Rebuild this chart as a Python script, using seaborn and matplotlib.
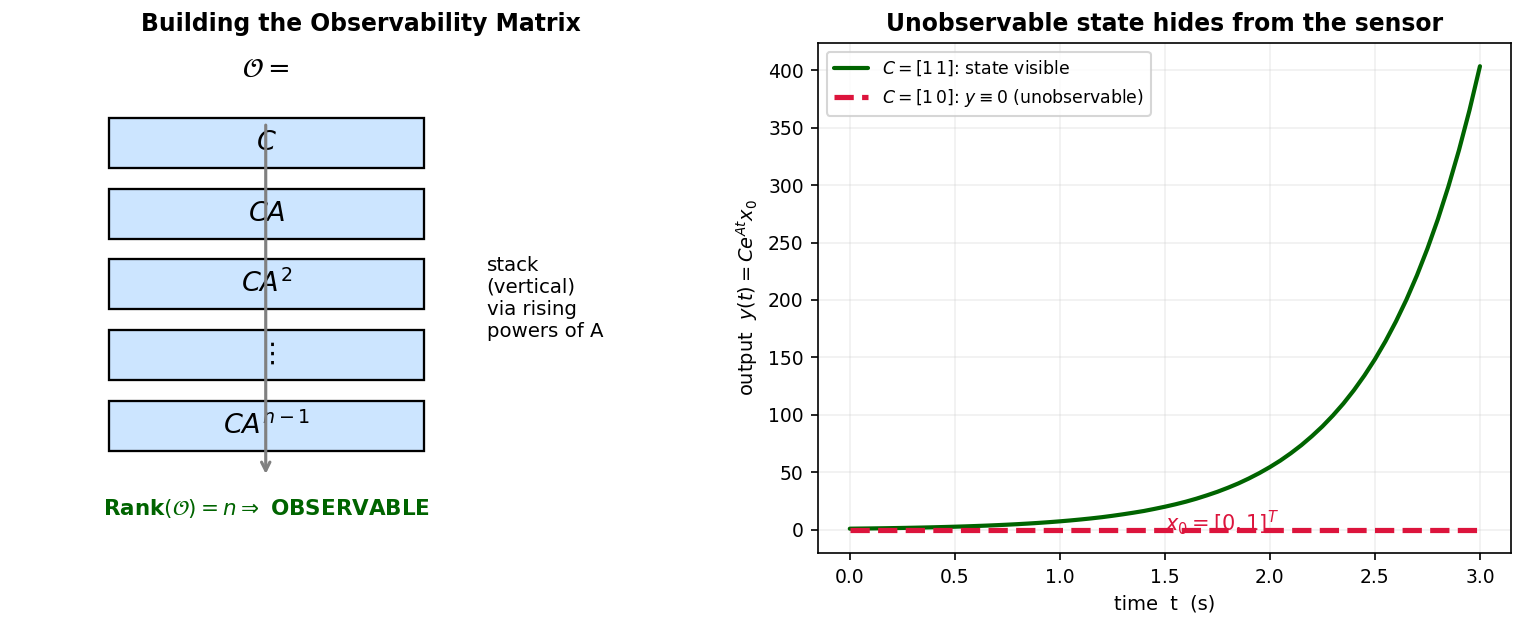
import numpy as np
import pandas as pd
import matplotlib
matplotlib.use("Agg")
import matplotlib.pyplot as plt
import seaborn as sns
from matplotlib.patches import Rectangle

# DATA
t_vals = [0.0, 0.05, 0.1, 0.15, 0.2, 0.25, 0.3, 0.35, 0.4, 0.45, 0.5,
          0.55, 0.6, 0.65, 0.7, 0.75, 0.8, 0.85, 0.9, 0.95, 1.0,
          1.05, 1.1, 1.15, 1.2, 1.25, 1.3, 1.35, 1.4, 1.45, 1.5,
          1.55, 1.6, 1.65, 1.7, 1.75, 1.8, 1.85, 1.9, 1.95, 2.0,
          2.05, 2.1, 2.15, 2.2, 2.25, 2.3, 2.35, 2.4, 2.45, 2.5,
          2.55, 2.6, 2.65, 2.7, 2.75, 2.8, 2.85, 2.9, 2.95, 3.0]
y_visible = [1.0, 1.11, 1.22, 1.35, 1.49, 1.65, 1.82, 2.01, 2.23, 2.46, 2.72,
             3.0, 3.32, 3.67, 4.06, 4.48, 4.95, 5.47, 6.05, 6.69, 7.39,
             8.17, 9.03, 9.97, 11.0, 12.2, 13.5, 14.9, 16.4, 18.2, 20.1,
             22.2, 24.5, 27.1, 30.0, 33.1, 36.6, 40.4, 44.7, 49.4, 54.6,
             60.3, 66.7, 73.7, 81.5, 90.0, 99.5, 109.9, 121.5, 134.3, 148.4,
             164.0, 181.3, 200.3, 221.4, 244.7, 270.4, 298.9, 330.3, 365.0, 403.4]
y_hidden = [0.0] * len(t_vals)
block_labels = [r"$C$", r"$CA$", r"$CA^2$", r"$\vdots$", r"$CA^{n-1}$"]

sns.set_style("ticks")
plt.rcParams['font.family'] = 'DejaVu Sans'
for key in ['text.color', 'axes.labelcolor', 'xtick.color', 'ytick.color', 'axes.edgecolor']:
    plt.rcParams[key] = 'black'

fig = plt.figure(figsize=(10.17, 4.18), dpi=150)
ax1 = fig.add_axes([0.026, 0.118, 0.421, 0.8134])
ax2 = fig.add_axes([0.5364, 0.118, 0.4544, 0.8134])

# LEFT: observability matrix diagram
ax1.set_xlim(0, 1)
ax1.set_ylim(0, 1)
ax1.axis('off')
ax1.set_title('Building the Observability Matrix', fontsize=11.3, fontweight='bold')

centers = [0.804, 0.665, 0.527, 0.388, 0.249]
for lab, cy in zip(block_labels, centers):
    ax1.add_patch(Rectangle((0.1075, cy - 0.049), 0.491, 0.098,
                            facecolor='#cce5ff', edgecolor='black', lw=1.1))
    ax1.text(0.353, cy, lab, ha='center', va='center', fontsize=13)

ax1.annotate('', xy=(0.352, 0.155), xytext=(0.352, 0.839),
             arrowprops=dict(arrowstyle='->', color='gray', lw=1.5,
                             shrinkA=0, shrinkB=0))
ax1.text(0.352, 0.947, r"$\mathcal{O} =$", ha='center', va='center', fontsize=13)
ax1.text(0.696, 0.5, "stack\n(vertical)\nvia rising\npowers of A",
         ha='left', va='center', fontsize=9.5)
ax1.text(0.354, 0.088, r"Rank$(\mathcal{O}) = n \Rightarrow$ OBSERVABLE",
         ha='center', va='center', fontsize=10.3, fontweight='bold', color='darkgreen')

# RIGHT: output response
df = pd.DataFrame({'t': t_vals, 'vis': y_visible, 'hid': y_hidden})
sns.lineplot(data=df, x='t', y='vis', ax=ax2, color='darkgreen', lw=2,
             label=r"$C=[1\,1]$: state visible")
sns.lineplot(data=df, x='t', y='hid', ax=ax2, color='crimson', lw=2.5,
             linestyle='--', label=r"$C=[1\,0]$: $y\equiv 0$ (unobservable)")
ax2.text(1.5, -6, r"$x_0=[0,1]^T$", color='crimson', fontsize=10,
         ha='left', va='bottom')
ax2.set_title('Unobservable state hides from the sensor', fontsize=11.3, fontweight='bold')
ax2.set_xlabel('time  t  (s)', fontsize=9.3)
ax2.set_ylabel(r'output  $y(t)=Ce^{At}x_0$', fontsize=9.3)
ax2.tick_params(labelsize=9)
ax2.grid(True, alpha=0.3)
ax2.legend(loc='upper left', fontsize=8.3)

fig.savefig('out.png', dpi=150)
